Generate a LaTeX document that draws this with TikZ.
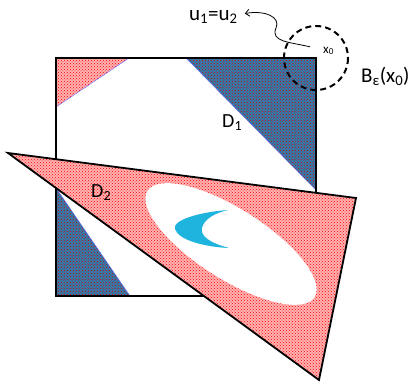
\documentclass[tikz,border=0pt]{standalone}
\usepackage{fontspec}
\setmainfont{Carlito}
\usetikzlibrary{patterns,arrows.meta}
\definecolor{crescentblue}{RGB}{30,180,222}
\definecolor{regionblue}{RGB}{45,125,175}

\begin{document}
\begin{tikzpicture}[x=1pt,y=-1pt,
    pinkdots/.style={preaction={fill=red!30},pattern=crosshatch dots,pattern color=red},
    bluedots/.style={preaction={fill=regionblue},pattern=crosshatch dots,pattern color=red!85!black},
    lbl/.style={inner sep=0pt,anchor=base west}]
  \useasboundingbox (0,0) rectangle (412,383);
  % pieces of D_1 inside the square
  \path[pinkdots,draw=blue!60,line width=0.4pt] (56,58) -- (129,58) -- (56,107) -- cycle;
  \path[bluedots,draw=blue!60,line width=0.4pt] (186,58) -- (316,58) -- (316,190) -- cycle;
  \path[bluedots,draw=blue!60,line width=0.4pt] (56,188) -- (130,296) -- (56,296) -- cycle;
  \draw[line width=2.8pt] (56,58) rectangle (316,296);
  % D_2
  \path[pinkdots,draw=black,line width=1.8pt] (8,153) -- (356,198) -- (319,380) -- cycle;
  \begin{scope}[shift={(231,244)},rotate=-32.5]
    \fill[white] (0,0) ellipse (99 and 35);
  \end{scope}
  \fill[crescentblue] (228,210) .. controls (200,212) and (172,220) .. (175,229)
    .. controls (178,240) and (205,247) .. (229,248)
    .. controls (210,243) and (200,236) .. (202,228)
    .. controls (204,219) and (215,213) .. cycle;
  % the ball
  \draw[line width=2pt,dash pattern=on 6pt off 4pt] (316,58) circle (32);
  \node[lbl] (xo) at (323,53) {\fontsize{13}{15}\selectfont x\textsubscript{0}};
  \node[lbl] (ball) at (361,82) {\fontsize{21}{25}\selectfont B\textsubscript{ε}(x\textsubscript{0})};
  \node[lbl] (ulab) at (189,20) {\fontsize{21}{25}\selectfont u\textsubscript{1}=u\textsubscript{2}};
  \draw[-{Straight Barb[length=4pt,width=7pt]},line width=0.8pt]
    ([shift={(-13pt,4pt)}]xo.west) .. controls (290,42) and (270,42) .. (276,28)
    .. controls (281,17) and (265,10) .. ([shift={(7pt,3pt)}]ulab.east);
  \node[lbl] (dA) at (222,127) {\fontsize{20}{24}\selectfont D\textsubscript{1}};
  \node[lbl] (dB) at (91,197) {\fontsize{20}{24}\selectfont D\textsubscript{2}};
\end{tikzpicture}
\end{document}
